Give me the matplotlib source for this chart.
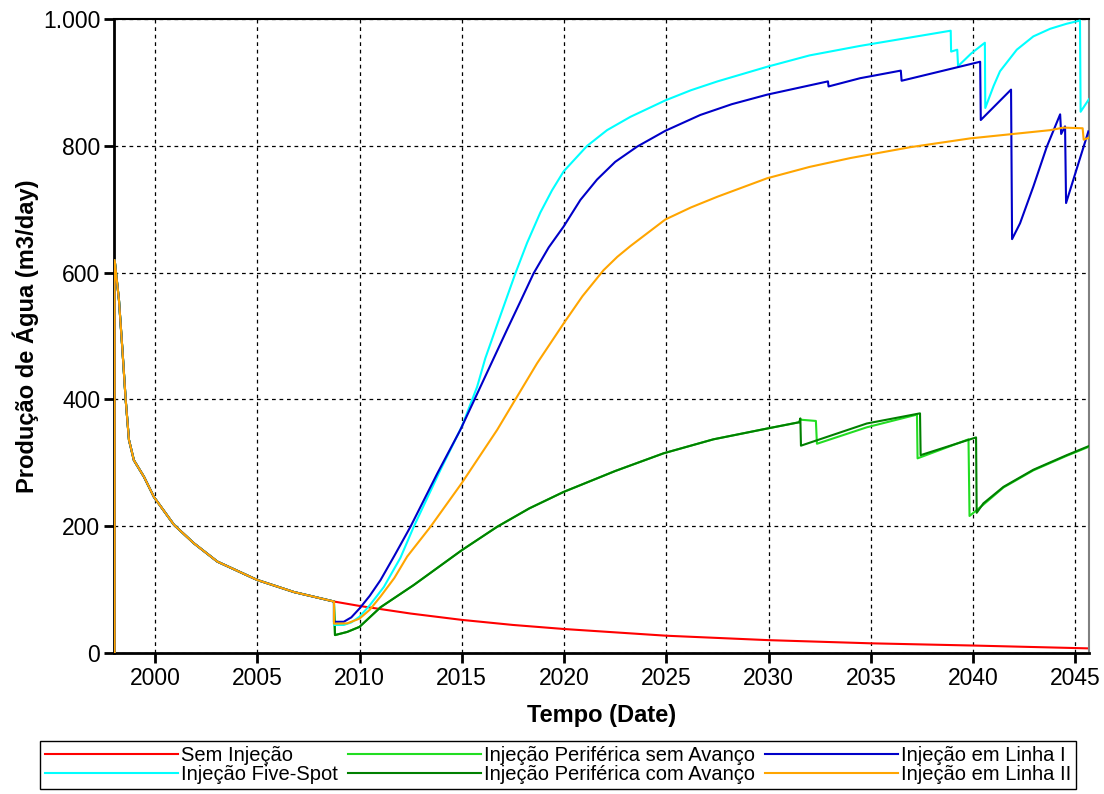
import matplotlib.pyplot as plt
from matplotlib.ticker import FuncFormatter, MultipleLocator

plt.rcParams["font.family"] = ["Liberation Sans", "DejaVu Sans"]

# shared history before the injection start (all cases identical)
hist_t = [1998.03, 1998.03, 1998.24, 1998.41, 1998.57, 1998.73, 1998.97, 1999.46,
          1999.95, 2000.93, 2001.9, 2003.05, 2005.0, 2006.79, 2008.75]
hist_q = [0, 620, 557, 478, 399, 336, 304, 278, 246, 202, 173, 144, 115, 96, 81]

# Sem Injeção
sem_t = [2010.0, 2012.5, 2015.0, 2017.5, 2020.0, 2025.0, 2030.0, 2035.0, 2040.0, 2045.66]
sem_q = [74, 62, 52, 44, 37.6, 27, 20, 15, 11.5, 7]

# Injeção Five-Spot
five_t = [2008.75, 2009.23, 2009.6, 2010.0, 2010.5, 2011.19, 2012.0, 2012.65, 2013.96,
          2015.0, 2015.75, 2016.15, 2016.64, 2017.62, 2018.19, 2018.84, 2019.41, 2019.98,
          2021.12, 2022.1, 2023.24, 2024.95, 2026.2, 2027.5, 2029.92, 2032.0, 2034.47,
          2038.9, 2038.92, 2039.22, 2039.26, 2039.9, 2040.57, 2040.59, 2041.0, 2041.31,
          2042.13, 2042.94, 2043.76, 2044.57, 2045.22, 2045.25, 2045.66]
five_q = [44, 44, 48, 57, 75, 104, 150, 199, 289,
          357, 420, 465, 510, 599, 647, 695, 730, 760,
          800, 825, 846, 872, 888, 902, 925, 943, 958,
          982, 949, 952, 926, 946, 963, 860, 895, 918,
          952, 973, 985, 993, 998, 854, 874]

# Injeção Periférica sem Avanço
psem_t = [2008.8, 2009.4, 2010.0, 2011.03, 2012.65, 2015.0, 2016.73, 2018.3, 2019.98,
          2022.5, 2024.87, 2027.3, 2029.92, 2031.5, 2031.55, 2032.31, 2032.36, 2034.8,
          2037.25, 2037.28, 2039.77, 2039.82, 2040.5, 2041.48, 2042.94, 2044.57, 2045.63]
psem_q = [28, 33, 41, 72, 107, 162, 199, 228, 254,
          287, 315, 337, 354, 364, 368, 366, 330, 356,
          376, 307, 337, 216, 234, 261, 288, 311, 325]

# Injeção Periférica com Avanço
pcom_t = [2008.8, 2009.4, 2010.0, 2011.03, 2012.65, 2015.0, 2016.73, 2018.3, 2019.98,
          2022.5, 2024.87, 2027.3, 2029.92, 2031.5, 2031.55, 2031.58, 2034.8, 2037.4,
          2037.43, 2040.14, 2040.17, 2040.5, 2041.48, 2042.94, 2044.57, 2045.63]
pcom_q = [28, 33, 41, 72, 107, 162, 199, 228, 254,
          287, 315, 337, 354, 364, 370, 327, 362, 378,
          312, 340, 221, 236, 262, 289, 312, 326]

# Injeção em Linha I
lin1_t = [2008.75, 2009.23, 2009.6, 2010.0, 2010.5, 2011.03, 2011.7, 2012.49, 2013.8,
          2014.93, 2016.07, 2016.56, 2017.21, 2017.9, 2018.51, 2019.25, 2019.98, 2020.8,
          2021.61, 2022.5, 2023.57, 2024.95, 2026.66, 2028.2, 2029.92, 2032.9, 2032.93,
          2034.47, 2036.46, 2036.5, 2040.34, 2040.37, 2041.85, 2041.9, 2042.29, 2042.94,
          2043.6, 2044.25, 2044.3, 2044.49, 2044.54, 2045.63]
lin1_q = [49, 49, 56, 70, 90, 115, 153, 199, 283,
          352, 431, 465, 510, 557, 599, 640, 673, 715,
          747, 775, 799, 824, 849, 866, 881, 902, 894,
          907, 919, 903, 933, 841, 889, 653, 678, 736,
          799, 850, 819, 831, 710, 823]

# Injeção em Linha II
lin2_t = [2008.75, 2009.4, 2010.0, 2010.5, 2011.03, 2011.7, 2012.33, 2013.47, 2015.0,
          2016.73, 2017.62, 2018.68, 2019.98, 2020.9, 2021.93, 2022.6, 2023.24, 2024.95,
          2026.2, 2027.5, 2029.92, 2032.0, 2034.0, 2036.9, 2039.85, 2043.76, 2044.41,
          2045.35, 2045.4, 2045.66]
lin2_q = [46, 46.5, 54, 68, 89, 118, 152, 199, 268,
          352, 400, 457, 520, 563, 604, 625, 642, 684,
          703, 720, 749, 767, 781, 798, 812, 825, 829,
          828, 810, 813]

series = [
    ("Sem Injeção", sem_t, sem_q, "#ff0000"),
    ("Injeção Five-Spot", five_t, five_q, "#00ffff"),
    ("Injeção Periférica sem Avanço", psem_t, psem_q, "#22dd22"),
    ("Injeção Periférica com Avanço", pcom_t, pcom_q, "#008000"),
    ("Injeção em Linha I", lin1_t, lin1_q, "#0000c8"),
    ("Injeção em Linha II", lin2_t, lin2_q, "#ffa500"),
]

fig = plt.figure(figsize=(11.04, 7.94), dpi=100)
ax = fig.add_axes([0.1033, 0.1778, 0.8831, 0.7979])

z_order = {"#ff0000": 2, "#22dd22": 3, "#008000": 4, "#00ffff": 5, "#0000c8": 6, "#ffa500": 7}
handles = []
for name, t, q, color in series:
    h, = ax.plot(hist_t + t, hist_q + q, color=color, lw=1.5, label=name, zorder=z_order[color])
    handles.append(h)

ax.set_xlim(1998.0, 2045.66)
ax.set_ylim(0, 1000)
ax.xaxis.set_major_locator(MultipleLocator(5))
ax.yaxis.set_major_locator(MultipleLocator(200))
ax.yaxis.set_major_formatter(FuncFormatter(lambda v, p: f"{int(v):,}".replace(",", ".")))

ax.grid(True, color="black", linestyle=(0, (3, 3)), linewidth=0.9)
ax.tick_params(axis="both", labelsize=16.5, length=7, width=2, direction="out", pad=3)

for side in ["left", "bottom"]:
    ax.spines[side].set_linewidth(2)
ax.spines["top"].set_linewidth(1.5)
ax.spines["right"].set_color("#808080")
ax.spines["right"].set_linewidth(1.5)

ax.set_xlabel("Tempo (Date)", fontsize=17, fontweight="bold", labelpad=10)
ax.set_ylabel("Produção de Água (m3/day)", fontsize=17, fontweight="bold", labelpad=3)

fig.legend(handles=handles, loc="upper left", ncol=3,
           bbox_to_anchor=(40 / 1104, 1 - 741 / 794), fontsize=14.5,
           handlelength=6.6, handletextpad=0.15, columnspacing=0.5,
           frameon=True, fancybox=False, edgecolor="black", framealpha=1,
           borderpad=0.25, labelspacing=0.0, borderaxespad=0)

fig.savefig("out.png", dpi=100)
